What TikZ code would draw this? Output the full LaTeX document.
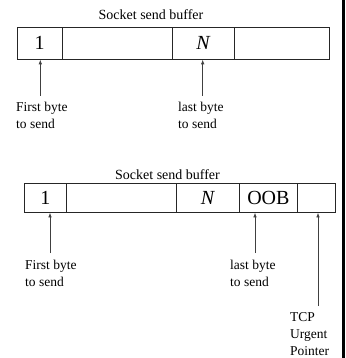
\documentclass[tikz,border=0pt]{standalone}
\usepackage{fontspec}
\setmainfont{Liberation Serif}
\usetikzlibrary{arrows.meta}

\begin{document}
\begin{tikzpicture}[x=1pt,y=-1pt,
  cell/.style={draw=black!85, line width=0.8pt, inner sep=0pt, anchor=north west,
    font=\fontsize{20}{20}\selectfont},
  title/.style={font=\fontsize{14}{16}\selectfont, inner sep=0pt, anchor=base},
  lbl/.style={font=\fontsize{13.5}{17}\selectfont, align=left, inner sep=0pt, anchor=north west},
  ptr/.style={draw=black!75, line width=0.6pt, -{Latex[length=4.5pt,width=3.5pt]}}
]
\useasboundingbox (0,0) rectangle (345,358);
% dark rule along the right edge
\fill (341.7,0) rectangle (345,358);

% ---- plain send buffer ----
\node[title] (t1) at (151,20) {Socket send buffer};
\begin{scope}[every node/.append style={minimum height=32pt}]
  \node[cell, minimum width=45pt]   (a1) at (16.7,27)  {1};
  \node[cell, minimum width=110pt]  (a2) at (61.7,27)  {};
  \node[cell, minimum width=62.6pt] (a3) at (171.7,27) {\textit{N}};
  \node[cell, minimum width=94.7pt] (a4) at (234.3,27) {};
\end{scope}
\node[lbl] (l1) at (16,102)  {First byte\\to send};
\node[lbl] (l2) at (178,102) {last byte\\to send};
\coordinate (p1) at (40.3,96);
\coordinate (p2) at (202.7,96);
\draw[ptr] (p1) -- (p1 |- a1.south);
\draw[ptr] (p2) -- (p2 |- a3.south);

% ---- send buffer holding an out-of-band byte ----
\node[title] (t2) at (167.5,179) {Socket send buffer};
\begin{scope}[every node/.append style={minimum height=29pt}]
  \node[cell, minimum width=42pt]  (b1) at (24,183)  {1};
  \node[cell, minimum width=110pt] (b2) at (66,183)  {};
  \node[cell, minimum width=63pt]  (b3) at (176,183) {\textit{N}};
  \node[cell, minimum width=58pt]  (b4) at (239,183) {OOB};
  \node[cell, minimum width=38pt]  (b5) at (297,183) {};
\end{scope}
\node[lbl] (m1) at (25,260)  {First byte\\to send};
\node[lbl] (m2) at (230,260) {last byte\\to send};
\node[lbl] (m3) at (290,312) {TCP\\Urgent\\Pointer};
\coordinate (q1) at (50,253);
\coordinate (q2) at (255,253);
\coordinate (q3) at (318,306);
\draw[ptr] (q1) -- (q1 |- b1.south);
\draw[ptr] (q2) -- (q2 |- b4.south);
\draw[ptr] (q3) -- (q3 |- b5.south);
\end{tikzpicture}
\end{document}
